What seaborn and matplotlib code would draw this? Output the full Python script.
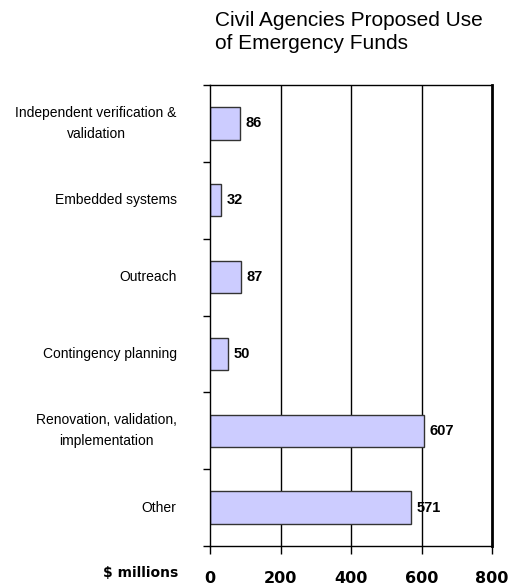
import matplotlib
matplotlib.use("Agg")
import matplotlib.pyplot as plt
import seaborn as sns
import pandas as pd
import numpy as np

categories = ["Independent verification &\nvalidation", "Embedded systems", "Outreach",
              "Contingency planning", "Renovation, validation,\nimplementation", "Other"]
values = [86, 32, 87, 50, 607, 571]
xticks = [0, 200, 400, 600, 800]
title = "Civil Agencies Proposed Use\nof Emergency Funds"
xlabel = "$ millions"

sns.set_theme(style="white")
plt.rcParams['font.family'] = ['Liberation Sans', 'DejaVu Sans']
plt.rcParams['text.color'] = 'black'
plt.rcParams['xtick.color'] = 'black'
plt.rcParams['ytick.color'] = 'black'
plt.rcParams['axes.labelcolor'] = 'black'

df = pd.DataFrame({"cat": categories, "val": values})

fig = plt.figure(figsize=(5.08, 5.88), dpi=100)
ax = fig.add_axes([210/508, 1-546/588, (492-210)/508, (546-85)/588])

sns.barplot(data=df, x="val", y="cat", orient="h", color="#CCCCFF",
            edgecolor="#333333", linewidth=1.0, width=0.42, saturation=1, ax=ax)

ax.set_xlim(0, 800)
ax.set_ylim(len(categories)-0.5, -0.5)
ax.set_xticks(xticks)
ax.set_xticklabels([str(t) for t in xticks], fontsize=11.5, fontweight='bold',
                   family=['DejaVu Sans'])
ax.tick_params(axis='x', which='major', length=6, width=1, color='black', direction='out', pad=12, bottom=True)
for xv in xticks[1:-1]:
    ax.axvline(xv, color='black', linewidth=1, zorder=0)

ax.set_yticks(np.arange(len(categories)))
ax.set_yticklabels(categories, fontsize=10, multialignment='center', linespacing=1.6)
for lab in ax.get_yticklabels():
    lab.set_va('center')
ax.tick_params(axis='y', which='major', length=0, pad=24)
ax.set_yticks(np.arange(len(categories)+1) - 0.5, minor=True)
ax.tick_params(axis='y', which='minor', length=5, width=1, color='black', left=True, direction='out')

ax.set_xlabel("")
ax.set_ylabel("")

for sp in ['left', 'bottom', 'top']:
    ax.spines[sp].set_color('black')
    ax.spines[sp].set_linewidth(1)
ax.spines['right'].set_color('black')
ax.spines['right'].set_linewidth(2)

for i, v in enumerate(values):
    ax.text(v + 16, i, str(v), va='center', ha='left', fontsize=10.5, fontweight='bold')

fig.text(215/508, 1-11/588, title, ha='left', va='top', fontsize=15, linespacing=1.28)
fig.text(141/508, 1-573/588, xlabel, ha='center', va='center', fontsize=10,
         fontweight='bold', family=['DejaVu Sans'])

fig.savefig("out.png", dpi=100)
